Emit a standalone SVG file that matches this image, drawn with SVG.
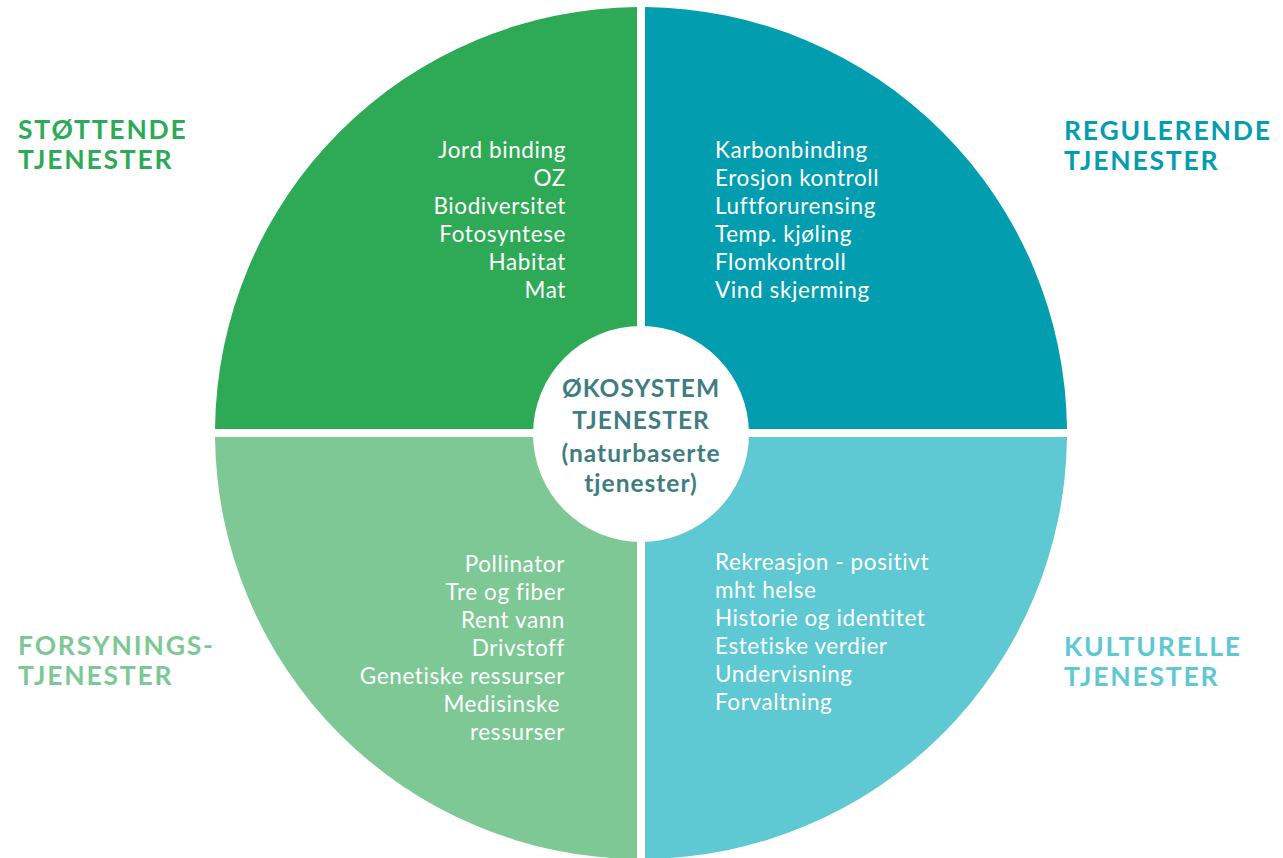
<svg xmlns="http://www.w3.org/2000/svg" width="1283" height="858" viewBox="0 0 1283 858">
<style>
.lbl{font-family:Lato,"Noto Sans",sans-serif;font-weight:bold;font-size:26.5px;letter-spacing:1.8px}
.item{font-family:Lato,"Noto Sans",sans-serif;font-size:22.5px;letter-spacing:0.6px;fill:#ffffff}
.ctr{font-family:Lato,"Noto Sans",sans-serif;font-weight:bold;font-size:24.5px;letter-spacing:1px;fill:#3f7d83;text-anchor:middle}
.end{text-anchor:end}
</style>
<rect width="1283" height="858" fill="#ffffff"/>
<g id="stottende">
<path d="M637,429 L637,7.02 A426,426 0 0 0 215.02,429 Z" fill="#2eaa57"/>
<text class="lbl" fill="#2eaa57" x="18" y="139">STØTTENDE</text>
<text class="lbl" fill="#2eaa57" x="18" y="169">TJENESTER</text>
<g class="item end">
<text x="566" y="158">Jord binding</text>
<text x="566" y="186">OZ</text>
<text x="566" y="214">Biodiversitet</text>
<text x="566" y="242">Fotosyntese</text>
<text x="566" y="270">Habitat</text>
<text x="566" y="298">Mat</text>
</g>
</g>
<g id="regulerende">
<path d="M645,429 L1066.98,429 A426,426 0 0 0 645,7.02 Z" fill="#029daf"/>
<text class="lbl" fill="#029daf" x="1064" y="140">REGULERENDE</text>
<text class="lbl" fill="#029daf" x="1064" y="170">TJENESTER</text>
<g class="item">
<text x="715" y="158">Karbonbinding</text>
<text x="715" y="186">Erosjon kontroll</text>
<text x="715" y="214">Luftforurensing</text>
<text x="715" y="242">Temp. kjøling</text>
<text x="715" y="270">Flomkontroll</text>
<text x="715" y="298">Vind skjerming</text>
</g>
</g>
<g id="forsynings">
<path d="M637,437 L215.02,437 A426,426 0 0 0 637,858.98 Z" fill="#7dc895"/>
<text class="lbl" fill="#7dc895" x="18" y="655">FORSYNINGS-</text>
<text class="lbl" fill="#7dc895" x="18" y="685">TJENESTER</text>
<g class="item end">
<text x="565" y="572">Pollinator</text>
<text x="565" y="600">Tre og fiber</text>
<text x="565" y="628">Rent vann</text>
<text x="565" y="656">Drivstoff</text>
<text x="565" y="684">Genetiske ressurser</text>
<text x="560" y="712">Medisinske</text>
<text x="565" y="740">ressurser</text>
</g>
</g>
<g id="kulturelle">
<path d="M645,437 L645,858.98 A426,426 0 0 0 1066.98,437 Z" fill="#5ec8d3"/>
<text class="lbl" fill="#5ec8d3" x="1064" y="656">KULTURELLE</text>
<text class="lbl" fill="#5ec8d3" x="1064" y="686">TJENESTER</text>
<g class="item">
<text x="715" y="570">Rekreasjon - positivt</text>
<text x="715" y="598">mht helse</text>
<text x="715" y="626">Historie og identitet</text>
<text x="715" y="654">Estetiske verdier</text>
<text x="715" y="682">Undervisning</text>
<text x="715" y="710">Forvaltning</text>
</g>
</g>
<g id="center">
<circle cx="641" cy="434" r="108" fill="#ffffff"/>
<text class="ctr" x="641" y="397">ØKOSYSTEM</text>
<text class="ctr" x="641" y="429">TJENESTER</text>
<text class="ctr" x="641" y="462">(naturbaserte</text>
<text class="ctr" x="641" y="492">tjenester)</text>
</g>
<g id="connectors"></g>
</svg>
